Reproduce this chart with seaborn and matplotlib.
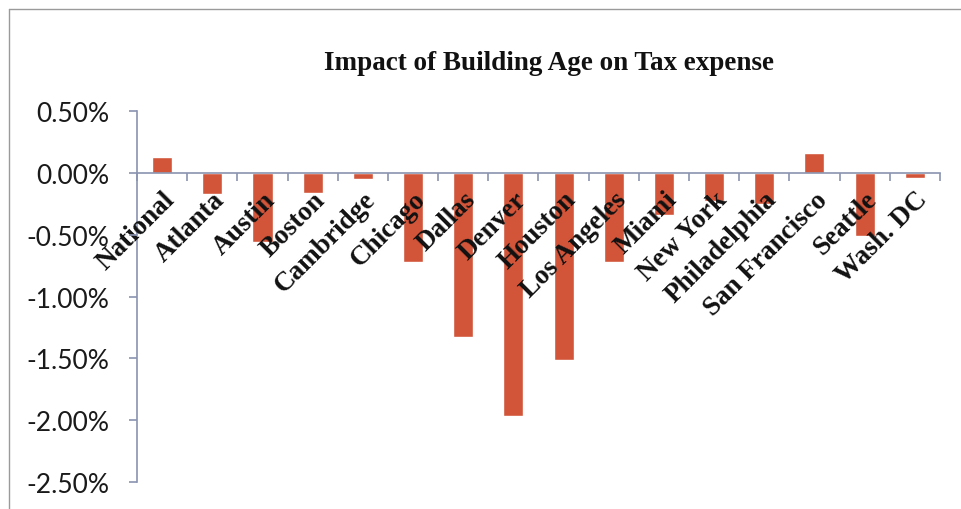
import matplotlib
matplotlib.use("Agg")
import matplotlib.pyplot as plt
from matplotlib.lines import Line2D
from matplotlib.ticker import FixedLocator, FuncFormatter
import seaborn as sns
import pandas as pd

# Change in tax expense attributable to building age, in percent
cities = ["National", "Atlanta", "Austin", "Boston", "Cambridge", "Chicago",
          "Dallas", "Denver", "Houston", "Los Angeles", "Miami", "New York",
          "Philadelphia", "San Francisco", "Seattle", "Wash. DC"]
impact_pct = [0.13, -0.17, -0.56, -0.16, -0.05, -0.72,
              -1.33, -1.97, -1.51, -0.72, -0.34, -0.23,
              -0.25, 0.16, -0.51, -0.04]
y_ticks = [0.5, 0.0, -0.5, -1.0, -1.5, -2.0, -2.5]

df = pd.DataFrame({"city": cities, "impact": impact_pct})

sns.set_theme(style="white")
axis_color = "#8a93b0"
bar_color = "#d2553a"
serif = ["Liberation Serif", "DejaVu Serif"]

fig = plt.figure(figsize=(9.61, 5.10), dpi=100)
ax = fig.add_axes([0.1426, 0.0529, 0.978 - 0.1426, 0.7275])
ax.set_axisbelow(False)

sns.barplot(data=df, x="city", y="impact", color=bar_color, width=0.4,
            saturation=1, ax=ax)

ax.set_xlim(-0.5, len(cities) - 0.5)
ax.set_ylim(-2.5, 0.5)
ax.set_xlabel("")
ax.set_ylabel("")

# Axes: left spine plus a category axis along zero
for side in ("top", "right"):
    ax.spines[side].set_visible(False)
ax.spines["left"].set_color(axis_color)
ax.spines["left"].set_linewidth(1.2)
ax.spines["bottom"].set_position(("data", 0))
ax.spines["bottom"].set_color(axis_color)
ax.spines["bottom"].set_linewidth(1.2)

ax.yaxis.set_major_locator(FixedLocator(y_ticks))
ax.yaxis.set_major_formatter(FuncFormatter(lambda v, _: f"{v:.2f}%"))
ax.tick_params(axis="y", which="major", left=True, length=6, width=1.2,
               color=axis_color, pad=14, labelsize=19, labelcolor="#1a1a1a")
for lbl in ax.get_yticklabels():
    lbl.set_family(["Lato", "DejaVu Sans"])

# Category tick marks sit between bars
ax.xaxis.set_minor_locator(FixedLocator([i - 0.5 for i in range(len(cities) + 1)]))
ax.tick_params(axis="x", which="minor", bottom=True, length=6, width=1.2,
               color=axis_color)
ax.tick_params(axis="x", which="major", bottom=False, length=0, pad=10)
ax.set_xticks(range(len(cities)))
ax.set_xticklabels(cities, rotation=45, ha="right", va="top",
                   rotation_mode="anchor", fontsize=19.5, fontweight="bold",
                   family=serif, color="#111111")

fig.text(0.5708, 0.876, "Impact of Building Age on Tax expense",
         ha="center", va="center", fontsize=19.5, fontweight="bold",
         family=serif, color="#111111")

# Chart-area frame along the top and left edges
frame_color = "#9a9a9a"
fig.add_artist(Line2D([9 / 961, 9 / 961], [0, 1 - 10 / 510],
                      transform=fig.transFigure, color=frame_color, lw=1.0))
fig.add_artist(Line2D([9 / 961, 1], [1 - 10 / 510, 1 - 10 / 510],
                      transform=fig.transFigure, color=frame_color, lw=1.0))

fig.savefig("out.png", dpi=100, facecolor="white")
